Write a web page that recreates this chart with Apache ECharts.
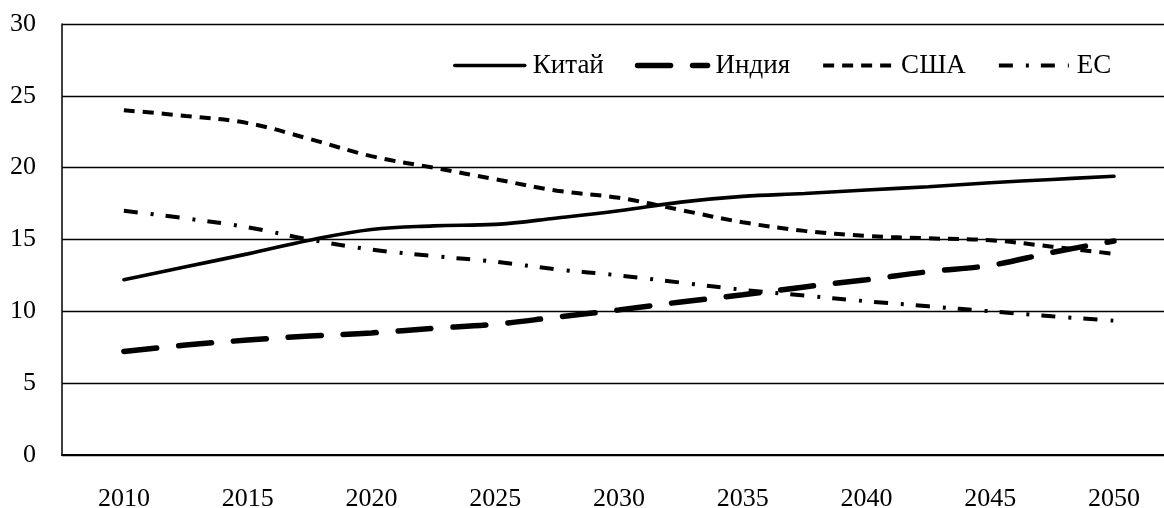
<!DOCTYPE html>
<html>
<head>
<meta charset="utf-8">
<script src="https://cdn.jsdelivr.net/npm/echarts@6/dist/echarts.min.js"></script>
<style>
html,body{margin:0;padding:0;background:#fff;}
#chart{width:1164px;height:508px;}
</style>
</head>
<body>
<div id="chart"></div>
<script>
const years = [2010, 2012.5, 2015, 2017.5, 2020, 2022.5, 2025, 2027.5, 2030, 2032.5, 2035, 2037.5, 2040, 2042.5, 2045, 2047.5, 2050];
const xTickLabels = [2010, 2015, 2020, 2025, 2030, 2035, 2040, 2045, 2050];
const seriesNames = ['Китай', 'Индия', 'США', 'ЕС'];
const china = [12.2, 13.1, 14.0, 14.95, 15.7, 15.95, 16.05, 16.5, 17.0, 17.6, 18.0, 18.2, 18.45, 18.67, 18.95, 19.18, 19.4];
const india = [7.2, 7.65, 8.0, 8.28, 8.5, 8.82, 9.1, 9.6, 10.1, 10.65, 11.15, 11.7, 12.2, 12.76, 13.2, 14.1, 14.9];
const usa = [24.0, 23.6, 23.1, 22.0, 20.8, 20.0, 19.2, 18.4, 17.9, 17.05, 16.2, 15.6, 15.25, 15.08, 14.95, 14.5, 14.0];
const eu = [17.0, 16.47, 15.85, 15.0, 14.3, 13.85, 13.45, 12.92, 12.5, 12.0, 11.5, 11.1, 10.7, 10.35, 10.0, 9.65, 9.35];

function pairs(vals){ return years.map((y,i)=>[y, vals[i]]); }
const font = "'Liberation Serif', 'Times New Roman', serif";
const chart = echarts.init(document.getElementById('chart'), null, {renderer:'canvas'});
const styles = [
  {width:3.6, type:'solid', cap:'round'},
  {width:5.5, type:[33,22], cap:'round'},
  {width:4, type:[11,8], cap:'butt'},
  {width:4, type:[14,13,3,12], cap:'butt'}
];
const datas = [china, india, usa, eu];
chart.setOption({
  animation:false,
  backgroundColor:'#fff',
  grid:{left:62, right:0, top:24, bottom:53, outerBoundsMode:'none', containLabel:false},
  legend:{
    left:448, top:47, itemGap:31, itemWidth:70, itemHeight:14,
    textStyle:{fontFamily:font, fontSize:27, color:'#000', padding:[0,0,0,3]},
    itemStyle:{opacity:0},
    data:seriesNames.map((n,i)=>({
      name:n,
      itemStyle:{opacity:0, borderWidth:0},
      lineStyle:{color:'#000', width:styles[i].width, type:styles[i].type, cap:styles[i].cap, opacity:1}
    }))
  },
  xAxis:{
    type:'value', min:2007.5, max:2052.02,
    axisLine:{show:true, lineStyle:{color:'#000', width:2}},
    axisTick:{show:false},
    splitLine:{show:false},
    axisLabel:{customValues:xTickLabels, fontFamily:font, fontSize:26, color:'#000', margin:31,
      formatter:v=>String(v)}
  },
  yAxis:{
    type:'value', min:0, max:30, interval:5,
    axisLine:{show:true, lineStyle:{color:'#000', width:1.5}},
    axisTick:{show:false},
    splitLine:{show:true, lineStyle:{color:'#000', width:1.3}},
    axisLabel:{fontFamily:font, fontSize:26, color:'#000', margin:26}
  },
  series: seriesNames.map((n,i)=>({
    name:n, type:'line', smooth:0.4, symbol:'none',
    data:pairs(datas[i]),
    lineStyle:{color:'#000', width:styles[i].width, type:styles[i].type, cap:styles[i].cap},
    itemStyle:{color:'#000'}
  }))
});
</script>
</body>
</html>
